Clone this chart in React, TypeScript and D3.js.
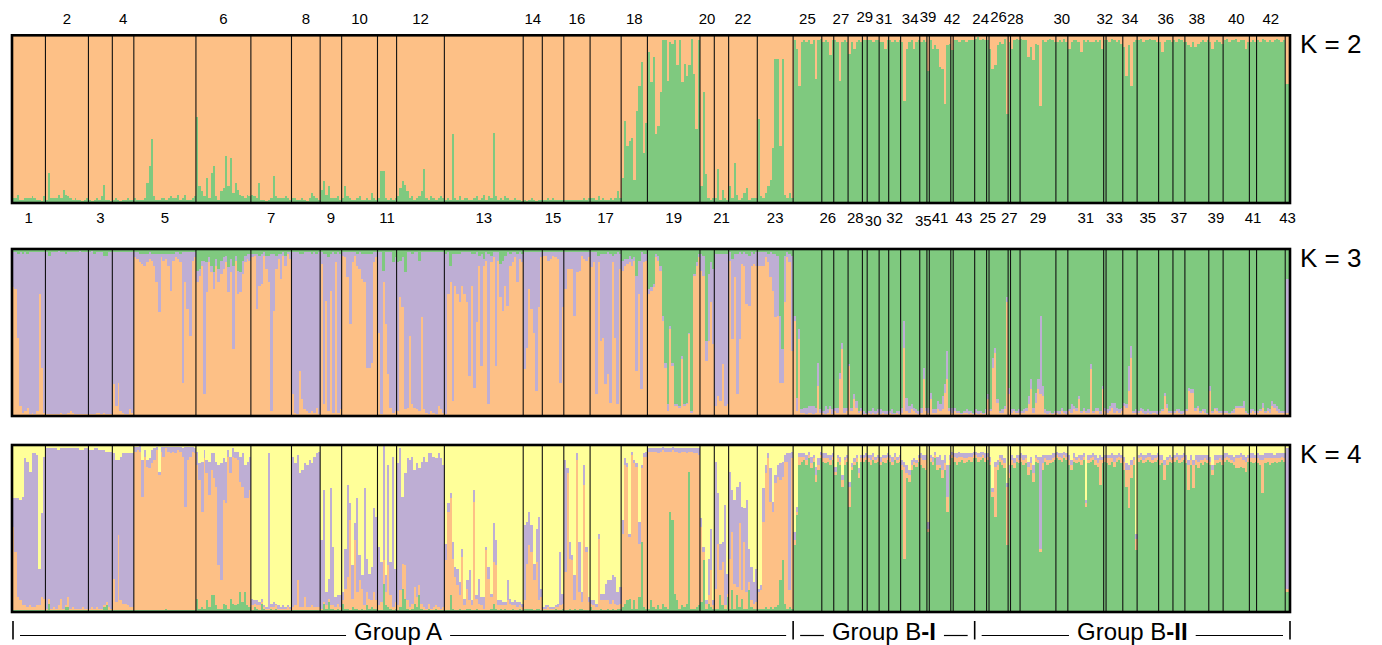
import React, { useRef, useEffect } from "react";
import * as d3 from "d3";

const W = 1382;
const H = 645;

const colors: Record<string, string> = {
  green: "#7fc97f",
  purple: "#beaed4",
  orange: "#fdc086",
  yellow: "#ffff99",
};

// population labels in plot order
const popsA = ["1", "2", "3", "4", "5", "6", "7", "8", "9", "10", "11", "12", "13", "14", "15", "16", "17", "18", "19", "20", "21", "22", "23"];
const popsB1 = ["25", "26", "27", "28", "29", "30", "31", "32", "34", "35", "39", "41", "42", "43"];
const popsB2 = ["24", "25", "26", "27", "28", "29", "30", "31", "32", "33", "34", "35", "36", "37", "38", "39", "40", "41", "42", "43"];

// K = 2 : green share (%) of each individual
const k2A = [
  "3 3 5 2 2 3 3 3 4 3 2 2 1 4",
  "2 18 3 3 3 5 3 8 5 4 3 2 3 2 2 1 2 3",
  "2 1 2 3 2 4 11 2 2 1",
  "2 3 2 1 2 2 3 2 2",
  "3 2 2 2 3 12 22 38 4 2 2 3 3 2 3 4 3 3 5 2 3 5 2 2 3 4",
  "51 10 7 4 15 3 18 22 4 2 7 9 28 10 27 6 12 8 5 4 3 5 4",
  "5 4 3 12 2 2 1 2 3 16 4 3 3 3 4 3 2",
  "3 3 2 2 3 2 1 3 6 4 3 2",
  "8 13 5 10 3 3 3 4 2",
  "3 10 4 3 2 2 3 4 2 2 3 2 6 3 2",
  "3 19 19 3 2 3 2 3",
  "4 9 13 11 7 3 4 2 3 4 7 20 3 2 4 3 2 3 4 3",
  "2 3 2 41 3 2 4 2 3 3 2 2 3 4 2 3 5 2 4 3 42 4 2 3 2 4 3 2 2 3 2 2 1",
  "2 1 2 3 2 1 2 2",
  "2 2 3 2 3 2 2 2 2",
  "2 2 2 2 2 2 2 2 3 2 3",
  "3 3 2 4 2 3 2 2 3 2 3 7 3",
  "15 49 34 37 39 14 55 70 84 30 48",
  "90 72 87 41 46 66 97 97 73 96 95 97 82 97 72 83 76 82 98 77 44 97",
  "10 66 17 3 2 3",
  "3 20 2 8 3 2",
  "10 3 24 5 2 3 6 9 2 3 3 3",
  "50 4 3 6 10 14 33 86 86 34 86 5 3 6 3",
];
const k2B1 = [
  "97 92 70 96 97 96 97 95 97 74 97 98",
  "96 97 96 88 97",
  "97 96 73 96 97 96",
  "89 96 92 96 97 96",
  "97 97",
  "97 97 96 97 97",
  "96 96 92 97",
  "97 96 97 96 97",
  "96 61 92 96 97 92 96 97",
  "96 97 96",
  "79",
  "97 92 94 92 81 80 59 94 95",
  "91",
  "97 97 96 97 97 96 97 97 97",
];
const k2B2 = [
  "98 99 97 98 97",
  "97",
  "92 80 82 94 96 95 98 53",
  "96",
  "92 97 98 97",
  "98 97 97 87 93 85 95 94 58 97 96 97 98 97 96",
  "96 97 96 98 96",
  "92 96 97 97 96 90 97 96 97 96 96 97 96 97 92",
  "97",
  "97 96 98 97 96 97 95",
  "93 76 94 70 96 97",
  "97 98 96 97 97 98 97 97 96",
  "96 90 96 97 97 96",
  "97 96 98 97 96",
  "96 94 93 96 93 95 96 97 96 97",
  "96 92 96 97 96 95",
  "97 98 96 97 97 98 96 97 97 92 96",
  "96 97 96",
  "97 96 98 97 96 97 96 97 98 97 96 97",
  "71 71",
];

// K = 3 : orange/purple (%) of each individual, green is the rest
const k3A = [
  "77/21 76/22 47/50 6/92 2/95 3/95 5/92 1/97 2/96 1/97 3/95 73/25 29/69 2/96",
  "1/97 1/95 1/97 1/97 1/97 1/98 2/96 1/97 1/96 2/96 3/95 2/96 1/97 1/97 1/98 1/97 1/97 1/97",
  "1/97 1/98 1/96 2/96 2/96 1/97 2/94 1/95 1/97 1/97",
  "19/79 6/92 20/78 3/95 2/96 1/97 1/97 4/94 2/96",
  "95/3 94/4 92/5 91/6 90/7 92/5 94/4 93/4 90/7 80/17 62/35 95/2 93/4 94/3 90/7 75/22 93/4 95/3 94/4 92/5 20/78 80/18 64/34 48/50 93/5 95/3",
  "80/7 84/4 90/3 13/80 74/18 92/3 86/4 76/10 90/4 80/8 85/8 88/7 92/4 74/15 86/8 40/50 93/3 73/14 74/12 85/8 92/4 94/3 93/4",
  "95/2 96/1 64/33 78/18 79/18 96/2 88/8 80/16 3/94 63/34 88/8 94/3 82/15 96/2 90/6 97/1 94/4",
  "13/85 2/96 1/97 27/70 10/87 4/94 3/95 2/96 3/94 2/96 5/92 1/97",
  "91/7 7/90 69/28 3/92 75/22 2/96 92/5 2/96 4/93",
  "96/2 95/3 83/15 55/43 92/6 96/2 90/7 88/10 82/15 80/17 29/68 29/68 32/65 92/6 95/3",
  "50/48 1/97 80/7 55/43 25/73 5/93 2/90 3/92",
  "3/89 71/22 65/30 4/82 5/93 48/50 7/90 5/93 4/94 3/90 59/39 4/94 2/96 1/97 3/95 2/96 1/97 6/92 4/94 2/96",
  "1/96 73/25 80/10 9/88 78/19 73/24 68/29 78/20 73/25 68/30 24/74 78/19 17/80 56/42 90/6 30/67 90/4 93/5 7/90 92/4 95/3 30/68 93/5 71/20 63/30 78/18 66/32 90/7 92/6 95/3 80/17 94/4 92/5",
  "28/70 41/57 76/22 64/34 50/48 15/83 65/33 95/3",
  "96/2 96/2 93/5 94/4 96/2 95/3 94/4 20/78 65/33",
  "76/22 88/10 88/10 88/10 60/38 86/12 87/11 96/2 94/4 93/5 95/3",
  "89/9 92/6 13/85 92/4 45/52 47/50 19/78 25/73 8/89 92/4 47/50 7/91 88/9",
  "87/6 90/4 91/3 92/4 90/4 93/2 27/57 73/20 16/82 92/5 93/4",
  "73/3 75/2 77/2 95/2 93/3 87/3 57/3 29/3 3/4 52/2 30/2 6/1 6/1 5/1 34/2 6/1 7/1 49/1 2/1 84/1 90/2 95/2",
  "87/10 84/12 33/12 45/40 68/24 43/45",
  "6/91 12/85 9/88 31/66 6/91 7/90",
  "93/5 46/48 83/14 13/84 46/52 91/6 90/8 67/30 66/30 90/8 91/6 90/8",
  "90/8 90/8 90/8 95/3 92/5 83/15 75/22 59/38 60/36 20/40 20/20 68/28 95/3 92/5 39/57",
];
const k3B1 = [
  "57/3 3/8 46/6 2/2 2/3 1/4 2/4 2/4 1/5 2/3 18/14 2/2",
  "2/1 1/5 2/2 4/2 1/3",
  "3/2 2/3 22/4 40/4 2/3 3/2",
  "30/1 3/2 10/3 5/4 2/1 3/2",
  "1/2 1/1",
  "2/1 1/2 2/3 1/2 2/2",
  "1/3 2/1 1/2 1/2",
  "2/1 1/3 1/1 2/1 1/2",
  "2/3 41/16 3/8 2/4 4/3 3/2 2/2 1/2",
  "2/3 22/7 3/2",
  "2/3",
  "10/4 2/2 2/2 4/5 3/4 4/8 14/5 22/17 3/2",
  "2/3",
  "3/2 2/1 2/1 1/1 2/1 2/2 1/2 2/1 1/1",
];
const k3B2 = [
  "2/2 1/2 2/1 1/1 2/2",
  "10/3",
  "3/1 29/6 38/3 8/2 2/1 2/2 4/2 68/3",
  "13/4",
  "2/2 3/1 2/1 2/2",
  "2/1 2/2 3/2 7/5 16/6 2/3 8/6 16/6 13/47 12/6 2/2 1/2 2/1 1/1 2/1",
  "2/1 1/2 3/2 2/1 1/2",
  "3/1 2/5 4/2 3/2 10/2 2/1 3/2 2/1 2/2 28/3 2/1 3/2 3/2 1/2 16/2",
  "3/2",
  "2/2 3/3 5/3 2/6 3/2 2/2 3/2",
  "6/2 5/2 15/15 35/7 2/1 2/2",
  "2/1 3/2 2/2 1/2 2/2 1/2 2/1 2/1 1/2",
  "2/1 3/1 12/2 5/2 2/1 2/1",
  "2/1 3/1 2/2 1/2 2/1",
  "3/1 15/2 14/2 14/2 3/2 5/1 2/1 3/1 2/2 1/1",
  "15/3 2/1 4/1 3/2 2/1 2/1",
  "2/1 2/1 1/1 2/1 2/2 5/1 5/1 5/1 5/4 2/1 1/1",
  "2/2 3/1 2/1",
  "2/1 3/1 5/3 2/1 3/2 2/2 6/3 5/2 3/3 2/2 2/1 2/1",
  "2/80 2/80",
];

// K = 4 : green/orange/purple (%) of each individual, yellow is the rest
const k4A = [
  "1/50/17 1/35/32 1/8/59 1/6/60 1/3/65 1/3/88 1/2/87 1/3/80 1/2/92 1/2/92 1/3/90 1/3/22 1/8/50 1/7/85",
  "1/1/96 5/3/90 1/1/96 1/2/95 1/1/96 1/3/93 1/7/90 1/1/96 3/1/94 3/6/89 1/1/96 1/2/95 1/1/96 1/1/96 1/1/95 1/2/94 1/1/96 1/1/96",
  "1/1/95 1/2/94 1/1/96 1/2/95 1/1/95 1/1/95 3/1/93 4/2/90 1/2/93 1/1/94",
  "1/19/75 1/5/85 1/45/45 1/6/86 1/4/90 1/4/90 1/3/91 1/2/92 1/2/92",
  "1/95/3 1/96/2 1/95/4 1/68/22 1/92/4 1/86/4 1/85/6 1/88/8 1/90/7 1/96/2 1/81/2 1/95/3 1/92/6 2/96/1 1/95/3 1/94/4 1/95/3 1/94/4 1/96/2 1/95/3 1/92/5 1/62/36 1/90/8 1/92/6 1/95/3 1/94/3",
  "8/80/8 2/77/10 3/57/30 2/90/5 7/76/8 3/67/20 10/75/10 10/70/15 4/71/15 2/26/60 2/17/70 5/62/25 4/61/25 2/91/4 8/75/10 5/88/5 4/88/4 5/86/5 12/66/15 6/69/20 12/56/20 4/64/22 3/70/20",
  "1/3/4 3/2/2 2/2/3 1/3/2 5/1/2 2/1/1 1/1/1 1/1/93 2/1/2 1/2/3 2/2/1 1/1/2 1/1/1 1/1/2 1/1/1 1/2/1 1/1/1",
  "1/2/90 1/3/85 1/18/75 1/2/80 1/2/82 1/8/80 1/2/85 1/2/88 1/3/85 1/2/90 1/2/92 1/2/93",
  "1/1/41 5/1/67 2/2/8 6/2/12 2/2/70 2/2/35 1/2/6 2/3/5 1/2/7",
  "5/2/5 2/12/24 2/19/55 1/54/10 3/5/20 2/41/10 2/10/56 1/18/15 2/12/8 1/3/70 4/8/20 2/6/15 3/4/20 2/10/50 2/5/50",
  "1/3/35 1/5/24 17/15/70 4/8/10 3/25/60 2/8/20 1/2/90 2/4/20",
  "1/3/85 3/10/85 14/15/40 8/20/55 2/5/85 1/2/88 2/3/88 5/10/70 3/6/80 10/6/70 2/3/85 1/2/90 1/1/88 2/3/90 1/1/93 1/2/90 2/2/88 1/2/92 1/1/90 1/2/85",
  "1/30/10 1/59/5 10/58/3 2/30/10 1/20/6 1/15/10 2/8/8 1/32/5 1/3/4 2/12/5 2/5/18 1/3/3 1/65/7 2/6/2 1/4/15 1/3/5 1/1/7 1/36/2 1/19/7 2/7/2 5/25/23 2/26/15 1/3/3 2/2/3 1/3/2 2/2/2 1/6/12 1/4/3 2/2/2 1/3/3 1/2/3 2/2/2 1/2/2",
  "2/5/45 2/27/25 2/38/20 2/34/16 1/18/10 2/28/20 2/5/50 1/8/5",
  "1/1/1 1/1/2 1/2/1 1/1/1 1/1/1 2/1/1 1/2/2 1/3/32 2/3/6",
  "1/23/67 1/82/3 2/30/10 1/30/3 2/5/15 1/90/4 2/10/30 2/4/6 1/75/12 1/35/3 1/5/3",
  "3/2/2 1/3/3 1/2/2 1/43/3 2/5/4 1/6/4 1/6/10 2/5/12 1/4/14 2/5/15 1/4/16 2/2/8 2/3/10",
  "3/44/8 5/83/4 7/80/2 8/37/2 2/92/2 7/82/2 2/85/2 9/32/13 42/44/2 3/90/2 2/91/3",
  "2/94/2 7/89/2 3/93/2 2/94/2 4/91/3 2/94/2 5/92/2 3/93/2 2/94/2 60/36/2 55/42/2 11/85/2 7/89/2 2/93/3 4/92/2 3/93/2 5/90/3 84/12/2 2/94/2 2/93/3 3/92/3 4/90/4",
  "6/45/5 31/5/3 2/3/2 5/5/22 3/22/25 2/2/3",
  "2/12/76 2/39/30 10/15/16 4/26/12 2/2/60 9/2/12",
  "2/30/52 13/35/25 2/15/50 10/5/60 3/50/25 8/5/50 2/40/20 2/10/55 13/5/20 3/4/20 2/3/13 2/4/20",
  "2/10/2 2/11/3 2/52/20 3/80/5 2/90/3 3/63/20 2/58/6 3/74/5 4/77/7 19/60/10 31/50/9 5/85/4 2/88/5 3/10/82 2/90/4",
];
const k4B1 = [
  "40/3/5 58/2/3 88/5/2 90/3/2 91/2/2 88/3/3 92/2/2 86/3/4 90/2/2 78/4/5 85/3/4 92/2/2",
  "90/2/3 89/3/3 90/2/2 88/3/3 91/2/2",
  "82/2/3 90/2/2 88/2/3 75/4/3 88/3/2 90/2/2",
  "63/12/3 85/2/2 88/2/2 90/2/2 80/3/3 90/2/2",
  "90/2/2 91/2/2",
  "90/2/2 88/3/3 91/2/2 89/2/2 90/2/2",
  "88/2/3 90/2/2 89/3/2 91/2/2",
  "90/2/2 88/2/3 91/2/2 89/2/2 90/2/2",
  "85/3/3 32/55/3 80/3/5 78/4/3 85/3/3 88/2/2 87/2/2 90/2/2",
  "88/4/3 86/5/3 85/6/3",
  "48/2/4",
  "90/2/2 88/2/3 92/2/2 85/3/5 86/2/6 80/5/6 85/4/5 60/9/19 88/3/3",
  "92/2/2",
  "90/3/2 88/4/3 90/3/3 91/2/2 89/3/3 90/2/3 91/2/2 90/3/2 92/2/2",
];
const k4B2 = [
  "92/2/2 90/3/2 91/2/3 92/2/2 90/2/3",
  "91/2/2",
  "88/2/3 69/3/2 57/30/3 85/3/3 90/2/2 88/3/3 86/3/3 40/35/2",
  "80/3/5",
  "88/3/3 86/3/3 90/2/2 89/2/3",
  "90/2/3 88/3/3 89/3/2 82/5/3 85/4/4 78/5/5 90/2/2 89/2/2 36/2/55 85/4/5 90/2/2 88/3/3 89/2/3 90/2/3 91/2/2",
  "92/2/2 91/2/2 90/2/3 92/2/2 91/2/2",
  "88/3/3 85/3/3 90/2/3 89/2/2 90/2/2 88/3/3 91/2/2 63/2/2 89/2/3 90/2/2 91/2/2 88/3/3 87/2/3 76/15/3 89/2/2",
  "90/2/2",
  "89/3/2 88/4/2 90/2/3 87/3/4 90/2/2 91/2/2 89/3/2",
  "85/5/3 75/10/4 62/23/3 80/8/3 88/3/2 37/7/3",
  "90/2/2 91/2/2 89/2/3 90/2/2 91/2/2 90/3/2 89/2/3 90/2/2 91/2/2",
  "88/3/3 89/2/3 79/9/3 88/3/2 90/2/2 89/2/2",
  "90/2/2 91/2/2 89/2/3 90/2/2 91/2/2",
  "89/2/3 73/15/3 88/3/3 74/14/3 88/3/3 86/4/4 89/2/3 88/3/3 90/2/2 89/2/3",
  "88/2/3 82/3/3 88/3/3 89/2/3 90/2/2 88/3/3",
  "90/2/3 91/2/2 90/2/2 89/2/3 88/2/3 86/6/2 86/6/2 87/6/2 86/5/3 84/6/3 90/2/2",
  "90/2/3 89/3/3 90/2/2",
  "89/3/3 88/3/3 71/20/3 89/3/3 90/2/3 88/4/3 89/3/3 90/2/2 89/3/3 90/2/3 91/2/2 90/2/3",
  "12/2/84 12/2/84",
];

// labels drawn slightly off their row where they would collide
const raisedLabels = ["Group B-I 29", "Group B-I 39", "Group B-II 26"];
const loweredLabels = ["Group B-I 30", "Group B-I 35"];

const groups = [
  { name: "Group A", bold: "", pops: popsA, k2: k2A, k3: k3A, k4: k4A, dx: -5 },
  { name: "Group B", bold: "-I", pops: popsB1, k2: k2B1, k3: k3B1, k4: k4B1, dx: 0 },
  { name: "Group B", bold: "-II", pops: popsB2, k2: k2B2, k3: k3B2, k4: k4B2, dx: 0 },
];

const panelDefs = [
  { k: 2, top: 35.3, bottom: 203, keys: ["green", "orange"] },
  { k: 3, top: 249, bottom: 416, keys: ["orange", "purple", "green"] },
  { k: 4, top: 445, bottom: 612, keys: ["green", "orange", "purple", "yellow"] },
];

const FONT = "Arial, 'Liberation Sans', sans-serif";

const parse = (s: string) => s.trim().split(/\s+/).map((t) => t.split("/").map(Number));
const pick = (arr: number[][], i: number, n: number) =>
  arr[Math.min(arr.length - 1, Math.floor((i * arr.length) / n))];

const App = () => {
  const svgRef = useRef<SVGSVGElement>(null);

  useEffect(() => {
    const svg = d3.select(svgRef.current);
    svg.selectAll("*").remove();

    // flatten individuals
    const rows: any[] = [];
    const pops: any[] = [];
    const groupSpans: any[] = [];
    groups.forEach((g) => {
      const gStart = rows.length;
      g.pops.forEach((label, pi) => {
        const t2 = parse(g.k2[pi]);
        const t3 = parse(g.k3[pi]);
        const t4 = parse(g.k4[pi]);
        const n = t2.length;
        const start = rows.length;
        for (let i = 0; i < n; i++) {
          const gr = t2[i][0];
          const [o3, p3] = pick(t3, i, n);
          const [g4, o4, p4] = pick(t4, i, n);
          rows.push({
            k2: { green: gr, orange: Math.max(0, 100 - gr) },
            k3: { orange: o3, purple: p3, green: Math.max(0, 100 - o3 - p3) },
            k4: { green: g4, orange: o4, purple: p4, yellow: Math.max(0, 100 - g4 - o4 - p4) },
          });
        }
        pops.push({ label, group: g.name + g.bold, start, n });
      });
      groupSpans.push({ ...g, start: gStart, end: rows.length });
    });

    const x = d3
      .scaleBand<number>()
      .domain(d3.range(rows.length))
      .range([12, 1290])
      .paddingInner(0);
    const bw = x.bandwidth();
    const xs = (i: number) => (i >= rows.length ? 1290 : (x(i) as number));

    panelDefs.forEach((p) => {
      const y = d3.scaleLinear().domain([0, 1]).range([p.bottom, p.top]);
      const data = rows.map((r) => {
        const v = r["k" + p.k];
        const tot = d3.sum(p.keys, (k) => v[k]) || 1;
        const o: any = {};
        p.keys.forEach((k) => (o[k] = v[k] / tot));
        return o;
      });
      const series = d3.stack<any>().keys(p.keys)(data);

      const g = svg.append("g");
      series.forEach((s) => {
        g.append("g")
          .attr("fill", colors[s.key])
          .attr("shape-rendering", "crispEdges")
          .selectAll("rect")
          .data(s)
          .join("rect")
          .attr("x", (d, i) => xs(i))
          .attr("width", bw + 0.4)
          .attr("y", (d) => y(d[1]))
          .attr("height", (d) => Math.max(0, y(d[0]) - y(d[1])));
      });

      // population separators
      g.append("g")
        .selectAll("line")
        .data(pops.filter((d) => d.start > 0))
        .join("line")
        .attr("x1", (d) => xs(d.start))
        .attr("x2", (d) => xs(d.start))
        .attr("y1", p.top)
        .attr("y2", p.bottom)
        .attr("stroke", "#111")
        .attr("stroke-width", 1.1);

      g.append("rect")
        .attr("x", 12)
        .attr("y", p.top)
        .attr("width", 1278)
        .attr("height", p.bottom - p.top)
        .attr("fill", "none")
        .attr("stroke", "#000")
        .attr("stroke-width", 2.6);

      g.append("text")
        .attr("x", 1300)
        .attr("y", p.top + 18)
        .attr("font-family", FONT)
        .attr("font-size", 26)
        .attr("fill", "#000")
        .text(`K = ${p.k}`);
    });

    // population labels: alternate above the first panel and below it
    svg
      .append("g")
      .attr("font-family", FONT)
      .attr("font-size", 15)
      .attr("text-anchor", "middle")
      .selectAll("text")
      .data(pops)
      .join("text")
      .attr("x", (d) => (xs(d.start) + xs(d.start + d.n)) / 2)
      .attr("y", (d, i) => {
        const key = d.group + " " + d.label;
        if (i % 2 === 1) return raisedLabels.includes(key) ? 21.6 : 24.3;
        return loweredLabels.includes(key) ? 226 : 223;
      })
      .text((d) => d.label);

    // group brackets
    const gy = 635.5;
    const brackets = svg.append("g").attr("stroke", "#000");
    const tickXs = [xs(0) + 1, ...groupSpans.map((g) => xs(g.end))];
    tickXs.forEach((tx) => {
      brackets
        .append("line")
        .attr("x1", tx)
        .attr("x2", tx)
        .attr("y1", 621)
        .attr("y2", 639.5)
        .attr("stroke-width", 1.6);
    });
    groupSpans.forEach((g, gi) => {
      const x0 = tickXs[gi];
      const x1 = tickXs[gi + 1];
      const cx = (x0 + x1) / 2 + g.dx;
      const t = svg
        .append("text")
        .attr("x", cx)
        .attr("y", 640)
        .attr("font-family", FONT)
        .attr("font-size", 24)
        .attr("text-anchor", "middle");
      t.append("tspan").text(g.name);
      if (g.bold) t.append("tspan").attr("font-weight", "bold").text(g.bold);
      const tw = (t.node() as SVGTextElement).getComputedTextLength();
      const gap = 8;
      brackets
        .append("line")
        .attr("x1", x0 + 7)
        .attr("x2", cx - tw / 2 - gap)
        .attr("y1", gy)
        .attr("y2", gy)
        .attr("stroke-width", 1.2);
      brackets
        .append("line")
        .attr("x1", cx + tw / 2 + gap)
        .attr("x2", x1 - 7)
        .attr("y1", gy)
        .attr("y2", gy)
        .attr("stroke-width", 1.2);
    });
  }, []);

  return (
    <svg
      ref={svgRef}
      width={W}
      height={H}
      style={{ position: "absolute", left: 0, top: 0, background: "#fff" }}
    ></svg>
  );
};

export default App;
